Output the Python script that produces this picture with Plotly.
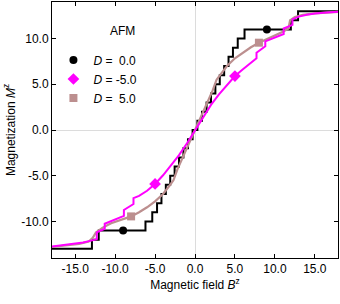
import plotly.graph_objects as go

# ---- data ----
# D = 0.0 (black staircase; points are step positions, drawn with hv shape)
B_d0 = [-17.9, -12.9, -12.05, -6.2, -5.35, -4.75, -4.2, -3.65, -3.1, -2.55, -2.0, -1.45, -0.88, -0.3,
        0.3, 0.88, 1.45, 2.0, 2.55, 3.1, 3.65, 4.2, 4.75, 5.35, 6.2, 12.0, 12.9, 17.9]
M_d0 = [-13, -12, -11, -10, -9, -8, -7, -6, -5, -4, -3, -2, -1, 0,
        1, 2, 3, 4, 5, 6, 7, 8, 9, 10, 11, 12, 13, 13]

# D = -5.0 (magenta)
B_dm5 = [-17.9, -16.5, -15.0, -14.0, -13.0, -12.3, -12.3, -11.3, -11.3, -10.2, -8.9, -8.9, -8.3, -7.7, -7.7,
         -7.0, -6.0, -5.0, -4.0, -3.0, -2.0, -1.0, 0.0, 1.0, 2.0, 3.0, 4.0, 5.0, 6.0, 7.0, 7.7, 7.7,
         8.3, 8.8, 8.8, 10.0, 11.1, 11.1, 12.2, 12.2, 13.0, 14.0, 15.0, 16.5, 17.9]
M_dm5 = [-12.75, -12.6, -12.45, -12.3, -12.1, -11.95, -11.2, -10.8, -10.25, -9.9, -9.4, -8.75, -8.45, -8.1, -7.45,
         -7.2, -6.65, -5.9, -4.95, -3.9, -2.75, -1.45, 0.0, 1.45, 2.75, 3.9, 4.95, 5.9, 6.65, 7.35, 7.85, 8.45,
         8.85, 9.15, 9.7, 10.15, 10.5, 11.1, 11.5, 12.1, 12.4, 12.6, 12.75, 12.85, 12.92]

# D = 5.0 (rosy brown)
B_dp5 = [-17.9, -16.0, -14.5, -13.3, -12.8, -12.4, -11.6, -10.5, -9.2, -8.0, -7.0, -6.0, -5.0, -4.0, -3.2,
         -2.7, -2.2, -1.5, -0.7, 0.0, 0.7, 1.5, 2.2, 2.7, 3.2, 4.0, 5.0, 6.0, 7.0, 8.0, 9.0, 10.0, 11.0,
         11.7, 11.9, 12.5, 13.5, 15.0, 17.9]
M_dp5 = [-12.8, -12.65, -12.45, -12.2, -11.8, -11.2, -10.7, -10.2, -9.8, -9.45, -9.0, -8.45, -7.8, -7.0, -6.1,
         -5.5, -4.3, -2.9, -1.5, 0.0, 1.5, 2.9, 4.3, 5.5, 6.1, 7.0, 7.85, 8.5, 9.05, 9.55, 9.95, 10.3, 10.75,
         11.1, 12.0, 12.35, 12.6, 12.75, 12.92]

# marker points
B_mk_d0, M_mk_d0 = [-9.0, 9.0], [-11.0, 11.0]
B_mk_dm5, M_mk_dm5 = [-5.0, 5.0], [-5.9, 5.9]
B_mk_dp5, M_mk_dp5 = [-8.0, 8.0], [-9.45, 9.55]

x_tickvals = [-15, -10, -5, 0, 5, 10, 15]
x_ticktext = ["-15.0", "-10.0", "-5.0", "0.0", "5.0", "10.0", "15.0"]
y_tickvals = [-10, -5, 0, 5, 10]
y_ticktext = ["-10.0", "-5.0", "0.0", "5.0", "10.0"]

labels = ["<i>D</i> = \u00a00.0", "<i>D</i> = -5.0", "<i>D</i> = \u00a05.0"]

BLACK = "#000000"
MAG = "#ff00ff"
TAN = "#bc8f8f"

fig = go.Figure()
fig.add_trace(go.Scatter(x=B_d0, y=M_d0, mode="lines", line=dict(color=BLACK, width=2, shape="hv"),
                         showlegend=False))
fig.add_trace(go.Scatter(x=B_dp5, y=M_dp5, mode="lines", line=dict(color=TAN, width=2.2),
                         showlegend=False))
fig.add_trace(go.Scatter(x=B_dm5, y=M_dm5, mode="lines", line=dict(color=MAG, width=2),
                         showlegend=False))

fig.add_trace(go.Scatter(x=B_mk_d0, y=M_mk_d0, mode="markers", name=labels[0],
                         marker=dict(color=BLACK, size=8, symbol="circle")))
fig.add_trace(go.Scatter(x=B_mk_dm5, y=M_mk_dm5, mode="markers", name=labels[1],
                         marker=dict(color=MAG, size=9, symbol="diamond")))
fig.add_trace(go.Scatter(x=B_mk_dp5, y=M_mk_dp5, mode="markers", name=labels[2],
                         marker=dict(color=TAN, size=8, symbol="square")))

FONT = "Liberation Sans, Arial, Helvetica, sans-serif"

axis_common = dict(showline=True, linecolor="black", linewidth=1, mirror="allticks",
                   ticks="inside", ticklen=4, tickcolor="black", tickwidth=1,
                   showgrid=False, zeroline=True, zerolinecolor="#dcdcdc", zerolinewidth=1,
                   tickfont=dict(size=12, color="black", family=FONT))

fig.update_xaxes(range=[-17.9, 17.9], tickvals=x_tickvals, ticktext=x_ticktext, automargin=True,
                 title=dict(text="Magnetic field <i>B</i><sup>z</sup>", standoff=5,
                            font=dict(size=12, color="black", family=FONT)),
                 **axis_common)
fig.update_yaxes(range=[-14, 14], tickvals=y_tickvals, ticktext=y_ticktext, automargin=True,
                 title=dict(text="Magnetization <i>M</i><sup>z</sup>", standoff=3,
                            font=dict(size=12, color="black", family=FONT)),
                 **axis_common)

fig.update_layout(
    width=340, height=304,
    margin=dict(l=52, r=2, t=2, b=46),
    plot_bgcolor="white", paper_bgcolor="white",
    font=dict(family=FONT, size=12, color="black"),
    legend=dict(x=0.005, y=0.83, xanchor="left", yanchor="top", bgcolor="rgba(0,0,0,0)",
                font=dict(size=12, family=FONT, color="black")),
    annotations=[dict(text="AFM", x=0.248, y=0.887, xref="paper", yref="paper",
                      xanchor="center", yanchor="middle",
                      showarrow=False, font=dict(size=12, family=FONT, color="black"))],
)

fig.write_html("out.html", config={"displayModeBar": False},
               post_script="document.body.style.margin='0';document.body.style.padding='0';")
